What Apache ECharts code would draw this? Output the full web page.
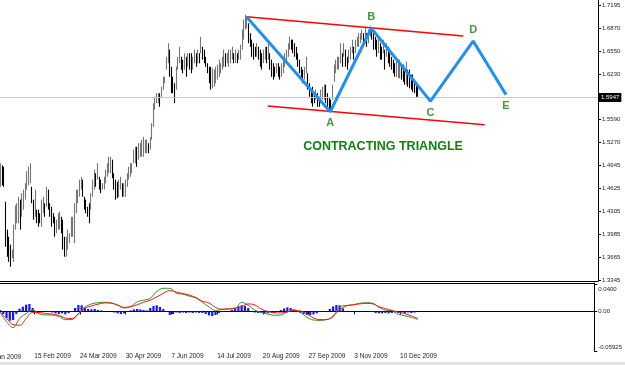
<!DOCTYPE html>
<html><head><meta charset="utf-8">
<script src="https://cdn.jsdelivr.net/npm/echarts@6/dist/echarts.min.js"></script>
<style>html,body{margin:0;padding:0;background:#fff;}#c{width:625px;height:365px;}</style>
</head><body><div id="c"></div>
<script>
// Daily bars (high / low), one per trading day
const highs = [
1.498,1.495,1.493,1.444,1.405,1.395,1.384,1.377,1.412,1.439,
1.442,1.451,1.447,1.456,1.461,1.470,1.487,1.493,1.498,1.465,
1.447,1.461,1.433,1.433,1.428,1.447,1.451,1.442,1.465,1.461,
1.442,1.437,1.428,1.423,1.419,1.428,1.430,1.423,1.419,1.395,
1.395,1.405,1.400,1.423,1.423,1.442,1.461,1.461,1.475,1.479,
1.475,1.451,1.447,1.437,1.442,1.456,1.475,1.489,1.484,1.498,
1.479,1.475,1.470,1.479,1.489,1.498,1.507,1.507,1.503,1.484,
1.475,1.472,1.475,1.479,1.470,1.470,1.475,1.484,1.493,1.498,
1.498,1.517,1.521,1.521,1.526,1.526,1.531,1.535,1.531,1.531,
1.526,1.535,1.554,1.582,1.591,1.596,1.596,1.596,1.605,1.619,
1.619,1.647,1.666,1.657,1.633,1.619,1.610,1.633,1.647,1.661,
1.647,1.643,1.652,1.647,1.652,1.652,1.652,1.647,1.657,1.652,
1.657,1.652,1.675,1.661,1.657,1.647,1.638,1.633,1.633,1.631,
1.629,1.633,1.636,1.643,1.638,1.647,1.657,1.652,1.652,1.657,
1.657,1.661,1.652,1.657,1.652,1.657,1.664,1.685,1.699,1.706,
1.704,1.694,1.680,1.671,1.666,1.661,1.666,1.661,1.657,1.652,
1.657,1.661,1.661,1.666,1.652,1.643,1.638,1.633,1.638,1.638,
1.633,1.638,1.643,1.652,1.657,1.666,1.675,1.671,1.671,1.666,
1.661,1.652,1.643,1.633,1.629,1.633,1.647,1.624,1.610,1.601,
1.605,1.596,1.601,1.596,1.591,1.601,1.605,1.608,1.608,1.596,
1.589,1.587,1.608,1.636,1.643,1.647,1.647,1.666,1.652,1.666,
1.657,1.647,1.657,1.661,1.671,1.661,1.671,1.675,1.680,1.680,
1.685,1.680,1.689,1.680,1.685,1.690,1.687,1.680,1.675,1.671,
1.675,1.666,1.661,1.671,1.657,1.666,1.661,1.652,1.647,1.643,
1.638,1.640,1.643,1.643,1.636,1.636,1.633,1.640,1.629,1.629,
1.622,1.622,1.615,1.612,1.608];
const lows = [
1.465,1.467,1.465,1.381,1.367,1.360,1.353,1.365,1.360,1.405,
1.414,1.414,1.405,1.423,1.433,1.447,1.461,1.467,1.470,1.442,
1.419,1.423,1.414,1.409,1.414,1.409,1.428,1.423,1.437,1.433,
1.423,1.409,1.414,1.395,1.400,1.405,1.405,1.400,1.377,1.367,
1.367,1.377,1.386,1.395,1.395,1.386,1.428,1.442,1.451,1.461,
1.451,1.433,1.428,1.423,1.414,1.433,1.451,1.461,1.465,1.475,
1.461,1.456,1.461,1.461,1.470,1.479,1.484,1.484,1.477,1.461,
1.447,1.449,1.451,1.461,1.451,1.451,1.451,1.465,1.475,1.479,
1.484,1.498,1.498,1.493,1.503,1.507,1.507,1.507,1.512,1.512,
1.512,1.517,1.531,1.549,1.573,1.582,1.582,1.577,1.591,1.601,
1.610,1.629,1.638,1.619,1.596,1.596,1.582,1.601,1.629,1.638,
1.629,1.624,1.629,1.619,1.633,1.629,1.624,1.629,1.638,1.633,
1.638,1.638,1.652,1.643,1.638,1.633,1.624,1.610,1.601,1.603,
1.605,1.610,1.615,1.619,1.624,1.629,1.633,1.633,1.638,1.633,
1.638,1.643,1.638,1.638,1.638,1.643,1.643,1.657,1.671,1.685,
1.687,1.666,1.661,1.647,1.643,1.647,1.647,1.643,1.633,1.629,
1.638,1.643,1.638,1.643,1.629,1.619,1.615,1.619,1.624,1.619,
1.615,1.619,1.624,1.633,1.638,1.647,1.657,1.657,1.652,1.647,
1.643,1.633,1.624,1.615,1.610,1.615,1.624,1.601,1.591,1.582,
1.577,1.582,1.587,1.577,1.577,1.582,1.587,1.587,1.582,1.577,
1.573,1.570,1.587,1.612,1.624,1.629,1.629,1.638,1.633,1.647,
1.633,1.629,1.638,1.643,1.652,1.643,1.652,1.661,1.661,1.666,
1.671,1.666,1.671,1.661,1.666,1.675,1.671,1.657,1.657,1.647,
1.652,1.643,1.643,1.652,1.629,1.647,1.638,1.633,1.629,1.624,
1.619,1.619,1.617,1.617,1.615,1.612,1.608,1.608,1.605,1.603,
1.601,1.598,1.596,1.591,1.591];

const dateLabels = ['9 Jan 2009','15 Feb 2009','24 Mar 2009','30 Apr 2009','7 Jun 2009','14 Jul 2009','20 Aug 2009','27 Sep 2009','3 Nov 2009','10 Dec 2009'];
const firstLabelBar = -7;
const barsPerLabel = 28;
const totalSlots = 365;
const priceTicks = [1.3345,1.3665,1.3985,1.4305,1.4625,1.4945,1.5270,1.5590,1.6230,1.6550,1.6870,1.7195];
const currentPrice = 1.5947;

// Wave annotation (bar index, price)
const wavePoints = [[150,1.703],[201,1.570],[226,1.687],[262,1.585],[288,1.669],[308,1.594]];
const waveNames = ['', 'A', 'B', 'C', 'D', 'E'];
const waveLabelPos = ['', 'bottom', 'top', 'bottom', 'top', 'bottom'];
const upperLine = [[150,1.703],[282,1.676]];
const lowerLine = [[163,1.578],[295,1.552]];
const patternTitle = 'CONTRACTING TRIANGLE';

// MACD sub-window: lines sampled every 4 bars, histogram every 2 bars
const macdMain = [
-0.0014,-0.0152,-0.0242,-0.0107,-0.0032,0.0017,-0.0036,-0.0054,-0.0054,-0.0074,
-0.0123,-0.0122,-0.0032,0.0062,0.0111,0.0129,0.0137,0.0126,0.0092,0.0051,
0.0071,0.0141,0.0168,0.0195,0.0296,0.0345,0.0344,0.0272,0.0257,0.0227,
0.0198,0.0134,0.0068,0.0014,0.0029,0.0036,0.0044,0.0134,0.0092,0.0021,
-0.0018,-0.0039,-0.0059,-0.0054,-0.0009,0.0021,-0.0017,-0.0089,-0.0129,-0.0134,
-0.0123,-0.0080,0.0066,0.0087,0.0095,0.0119,0.0129,0.0123,0.0062,0.0018,
0.0011,-0.0044,-0.0066,-0.0090,-0.0122];
const macdSignal = [
-0.0005,-0.0107,-0.0197,-0.0207,-0.0107,-0.0017,-0.0017,-0.0033,-0.0041,-0.0062,
-0.0099,-0.0108,-0.0039,0.0044,0.0081,0.0107,0.0126,0.0123,0.0095,0.0060,
0.0071,0.0098,0.0137,0.0167,0.0216,0.0270,0.0311,0.0288,0.0266,0.0243,
0.0207,0.0152,0.0126,0.0059,0.0033,0.0035,0.0051,0.0074,0.0111,0.0096,
0.0036,-0.0002,-0.0020,-0.0024,-0.0009,0.0011,0.0006,-0.0039,-0.0099,-0.0123,
-0.0123,-0.0069,0.0021,0.0081,0.0099,0.0111,0.0120,0.0114,0.0071,0.0042,
0.0014,-0.0012,-0.0033,-0.0069,-0.0105];
const macdHist = [
0.002,-0.004,-0.010,-0.014,-0.013,-0.004,0.004,0.007,0.010,0.011,
0.005,0.0006,-0.0006,0.0006,-0.0006,-0.001,-0.0017,-0.003,-0.004,-0.003,
-0.0045,-0.0025,-0.001,0.005,0.0096,0.009,0.005,0.0036,0.003,0.0036,
0.002,0.0014,0.0006,-0.0002,-0.0002,-0.0017,-0.003,-0.004,-0.003,-0.001,
0.0014,0.003,0.0036,0.003,0.002,0.0014,0.005,0.008,0.009,0.0066,
0.0036,0.0006,-0.0054,-0.004,-0.0017,-0.0024,-0.0017,-0.0024,-0.0017,-0.0024,
-0.0017,-0.0024,-0.0024,-0.004,-0.006,-0.007,-0.0054,-0.0024,-0.001,-0.0002,
0.0006,0.002,0.0044,0.0074,0.009,0.008,0.005,-0.0002,-0.0017,-0.0024,
-0.0024,-0.003,-0.0024,-0.0017,-0.0024,-0.001,0.002,0.0044,0.006,0.005,
0.003,0.0006,-0.0024,-0.004,-0.0054,-0.0054,-0.0046,-0.003,-0.001,-0.0002,
0.0006,0.0036,0.0074,0.0096,0.009,0.0044,0.0006,-0.0002,0.0006,-0.0002,
0.0006,-0.0002,0.0006,-0.0002,-0.001,-0.0024,-0.003,-0.003,-0.0024,-0.003,
-0.0024,-0.0017,-0.0024,-0.0017,-0.0024,-0.0017,-0.0024,-0.0017];
const macdTicks = [-0.05925, 0, 0.04];

const slots = Array.from({length: totalSlots}, (_, i) => String(i));
const halfSlots = Array.from({length: (totalSlots - 1) / 2 + 1}, (_, i) => String(i));
const quarterSlots = Array.from({length: (totalSlots - 1) / 4 + 1}, (_, i) => String(i));
const FONT = 'Liberation Sans, Arial, sans-serif';
const GREEN = '#118011';

function isLabelSlot(idx) {
  const k = (idx - firstLabelBar) / barsPerLabel;
  return Number.isInteger(k) && k >= 0 && k < dateLabels.length;
}

function renderBar(params, api) {
  const i = api.value(0);
  const top = api.coord([i, api.value(2)]);
  const bot = api.coord([i, api.value(1)]);
  const mid = (highs[i] + lows[i]) / 2;
  const prevMid = i > 0 ? (highs[i - 1] + lows[i - 1]) / 2 : mid;
  const x = Math.round(top[0]) + 0.5;
  return {
    type: 'line',
    shape: {x1: x, y1: top[1], x2: x, y2: bot[1]},
    style: {stroke: mid >= prevMid ? '#767676' : '#000000', lineWidth: 1.1}
  };
}

const chart = echarts.init(document.getElementById('c'), null, {renderer: 'canvas'});
chart.setOption({
  animation: false,
  backgroundColor: '#ffffff',
  textStyle: {fontFamily: FONT},
  grid: [
    {left: 0, right: 27, top: 0, height: 281},
    {left: 0, right: 27, top: 283, height: 68}
  ],
  xAxis: [
    {gridIndex: 0, type: 'category', data: slots, boundaryGap: false,
     axisLine: {lineStyle: {color: '#000'}}, axisTick: {show: false}, axisLabel: {show: false}, splitLine: {show: false}},
    {gridIndex: 1, type: 'category', data: slots, boundaryGap: false, position: 'bottom',
     axisLine: {lineStyle: {color: '#000'}},
     axisTick: {interval: (idx) => isLabelSlot(idx), length: 3, lineStyle: {color: '#000'}},
     axisLabel: {interval: (idx) => isLabelSlot(idx),
       formatter: (v, idx) => dateLabels[(idx - firstLabelBar) / barsPerLabel] || '',
       align: 'left', margin: 2, fontSize: 6.5, color: '#222', fontFamily: FONT},
     splitLine: {show: false}},
    {gridIndex: 1, type: 'category', data: halfSlots, boundaryGap: false, position: 'top',
     axisLine: {lineStyle: {color: '#000'}}, axisTick: {show: false}, axisLabel: {show: false}, splitLine: {show: false}},
    {gridIndex: 1, type: 'category', data: quarterSlots, boundaryGap: false, show: false}
  ],
  yAxis: [
    {gridIndex: 0, type: 'value', position: 'right', min: 1.3331, max: 1.7265,
     splitLine: {show: false},
     axisLine: {show: true, lineStyle: {color: '#000'}},
     axisTick: {show: true, customValues: priceTicks, length: 3, lineStyle: {color: '#000'}},
     axisLabel: {customValues: priceTicks, formatter: (v) => v.toFixed(4), fontSize: 6, margin: 4, color: '#222', fontFamily: FONT}},
    {gridIndex: 1, type: 'value', position: 'right', min: -0.05925, max: 0.0424,
     splitLine: {show: false},
     axisLine: {show: true, lineStyle: {color: '#000'}},
     axisTick: {show: true, customValues: macdTicks, length: 3, lineStyle: {color: '#000'}},
     axisLabel: {customValues: macdTicks, margin: 4, fontSize: 6, color: '#222', fontFamily: FONT,
       formatter: (v) => v > 0 ? '{a|0.0400}' : (v < 0 ? '{b|-0.05925}' : '0.00'),
       rich: {a: {padding: [9, 0, 0, 0], fontSize: 6, color: '#222'}, b: {padding: [0, 0, 8, 0], fontSize: 6, color: '#222'}}}}
  ],
  graphic: [
    {type: 'rect', left: 0, top: 362, shape: {width: 625, height: 3}, style: {fill: '#e4e4e4'}, silent: true},
    {type: 'text', x: -11, y: 357, style: {text: dateLabels[0], font: '6.5px ' + FONT, fill: '#222', textAlign: 'left', textVerticalAlign: 'middle'}, silent: true},
    {type: 'text', x: 383, y: 147, style: {text: patternTitle, font: 'bold 12.5px ' + FONT, fill: GREEN, textAlign: 'center', textVerticalAlign: 'middle'}, silent: true}
  ],
  series: [
    {type: 'custom', name: 'bars', xAxisIndex: 0, yAxisIndex: 0,
     data: highs.map((h, i) => [i, lows[i], h]),
     dimensions: ['x', 'low', 'high'], encode: {x: 0, y: [1, 2]},
     renderItem: renderBar, clip: true, z: 3,
     markLine: {silent: true, symbol: 'none', animation: false,
       lineStyle: {color: '#c8c8c8', width: 1, type: 'solid'},
       label: {position: 'end', formatter: currentPrice.toFixed(4), color: '#fff', backgroundColor: '#000',
               padding: [2, 2, 1, 2], fontSize: 6, distance: 1, fontFamily: FONT},
       data: [{yAxis: currentPrice}]}},
    {type: 'line', name: 'upper', xAxisIndex: 0, yAxisIndex: 0, data: upperLine, symbol: 'none',
     lineStyle: {color: '#ff0000', width: 1.5}, z: 4},
    {type: 'line', name: 'lower', xAxisIndex: 0, yAxisIndex: 0, data: lowerLine, symbol: 'none',
     lineStyle: {color: '#ff0000', width: 1.5}, z: 4},
    {type: 'line', name: 'wave', xAxisIndex: 0, yAxisIndex: 0, data: wavePoints, symbol: 'none',
     lineStyle: {color: '#2090f0', width: 3}, z: 5},
    {type: 'scatter', name: 'waveLabels', xAxisIndex: 0, yAxisIndex: 0, symbolSize: 0.1,
     itemStyle: {color: 'transparent'}, z: 6,
     data: wavePoints.map((p, i) => ({value: p, name: waveNames[i],
       label: {show: waveNames[i] !== '', position: waveLabelPos[i] || 'top', distance: 6,
               formatter: '{b}', color: GREEN, fontWeight: 'bold', fontSize: 11, fontFamily: FONT}}))},
    {type: 'bar', name: 'hist', xAxisIndex: 2, yAxisIndex: 1, data: macdHist, barWidth: 2.2,
     itemStyle: {color: '#1414ff'}, z: 2},
    {type: 'line', name: 'macd', xAxisIndex: 3, yAxisIndex: 1, data: macdMain, symbol: 'none', smooth: 0.4,
     lineStyle: {color: '#1f9a1f', width: 1}, z: 3},
    {type: 'line', name: 'signal', xAxisIndex: 3, yAxisIndex: 1, data: macdSignal, symbol: 'none', smooth: 0.4,
     lineStyle: {color: '#ff1010', width: 1}, z: 4}
  ]
});
</script>
</body></html>
